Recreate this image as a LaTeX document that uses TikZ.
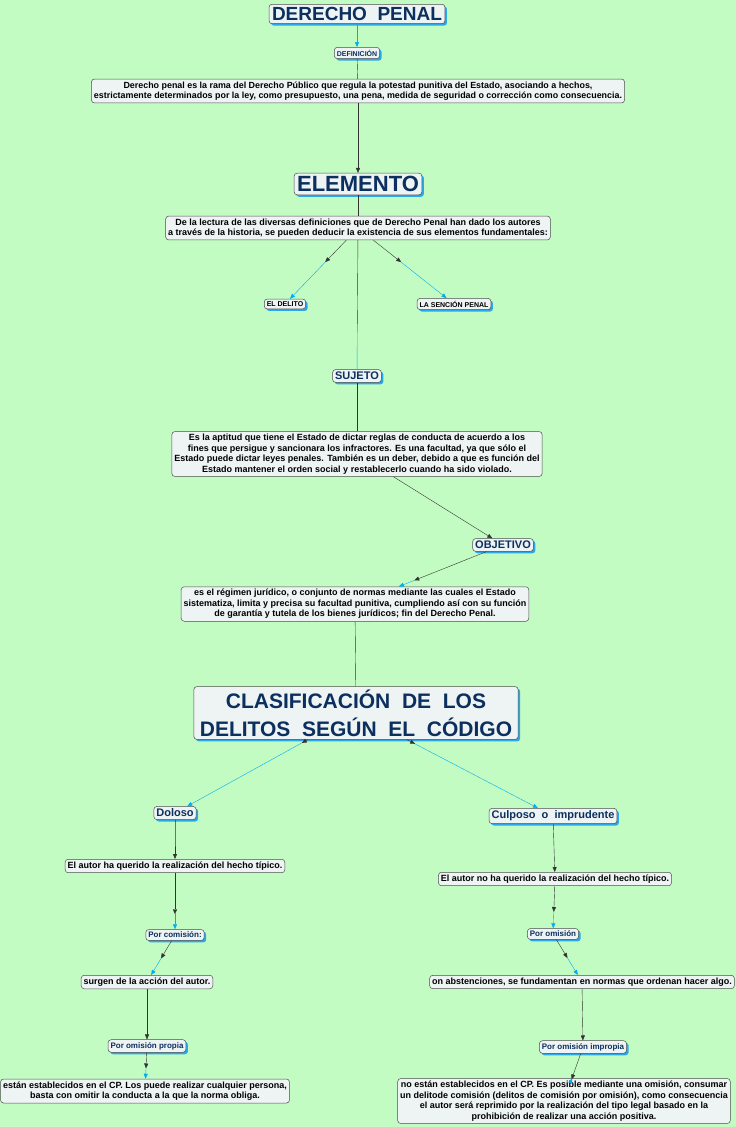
\documentclass[tikz,border=0pt]{standalone}
\usepackage{fontspec}
\setmainfont{Liberation Sans}
\usetikzlibrary{shadows,calc,arrows.meta}
\definecolor{bgreen}{HTML}{C3FCC3}
\definecolor{navy}{HTML}{0B2F5E}
\definecolor{boxfill}{HTML}{EEF3F3}
\definecolor{shad}{HTML}{2CA8E8}
\tikzset{
  base/.style={draw=black!70, fill=boxfill, rounded corners=3pt, line width=0.5pt, font=\bfseries, inner sep=2.5pt},
  concept/.style={base, text=navy, drop shadow={fill=shad, opacity=1, shadow xshift=2pt, shadow yshift=-2pt}},
  phrase/.style={base, align=center, font=\bfseries\fontsize{9}{10.5}\selectfont},
  big/.style={concept, font=\bfseries\fontsize{22}{24}\selectfont, inner sep=3pt},
  mid/.style={concept, font=\bfseries\fontsize{11}{13}\selectfont},
  small/.style={concept, font=\bfseries\fontsize{7}{8}\selectfont},
  tip/.style={-{Triangle[length=5pt,width=4pt]}}
}
% black part with arrow, then cyan part with arrow
\newcommand{\link}[3][0.55]{%
  \draw[black!80, tip] (#2) -- ($(#2)!#1!(#3)$);
  \draw[cyan, tip] ($(#2)!#1!(#3)$) -- (#3);}
\begin{document}
\begin{tikzpicture}[x=1pt,y=-1pt]
\fill[bgreen] (0,0) rectangle (736,1127);
\useasboundingbox (0,0) rectangle (736,1127);

\node[big, font=\bfseries\fontsize{19}{21}\selectfont] (dp) at (357,14) {DERECHO\ \ PENAL};
\node[small] (def) at (357,53) {DEFINICIÓN};
\node[phrase, font=\bfseries\fontsize{8.9}{10.5}\selectfont] (deftxt) at (358,91) {Derecho penal es la rama del Derecho Público que regula la potestad punitiva del Estado, asociando a hechos,\\
estrictamente determinados por la ley, como presupuesto, una pena, medida de seguridad o corrección como consecuencia.};
\node[big] (elem) at (358,184) {ELEMENTO};
\node[phrase] (elemtxt) at (358,228) {De la lectura de las diversas definiciones que de Derecho Penal han dado los autores\\
a través de la historia, se pueden deducir la existencia de sus elementos fundamentales:};
\node[small, text=black] (delito) at (285,304) {EL\ DELITO};
\node[small, text=black] (sancion) at (454,304) {LA\ SENCIÓN\ PENAL};
\node[mid] (sujeto) at (357,376) {SUJETO};
\node[phrase] (sujtxt) at (357,454) {Es la aptitud que tiene el Estado de dictar reglas de conducta de acuerdo a los\\
fines que persigue y sancionara los infractores. Es una facultad, ya que sólo el\\
Estado puede dictar leyes penales. También es un deber, debido a que es función del\\
Estado mantener el orden social y restablecerlo cuando ha sido violado.};
\node[mid] (obj) at (503,545) {OBJETIVO};
\node[phrase] (objtxt) at (355,604) {es el régimen jurídico, o conjunto de normas mediante las cuales el Estado\\
sistematiza, limita y precisa su facultad punitiva, cumpliendo así con su función\\
de garantía y tutela de los bienes jurídicos; fin del Derecho Penal.};
\node[big, align=center, font=\bfseries\fontsize{21}{28}\selectfont, inner xsep=6pt] (clas) at (356,713) {CLASIFICACIÓN\ \ DE\ \ LOS\\DELITOS\ \ SEGÚN\ \ EL\ \ CÓDIGO};

\node[mid] (dol) at (175,813) {Doloso};
\node[mid] (cul) at (553,816) {Culposo\ \ o\ \ imprudente};
\node[phrase] (doltxt) at (175,866) {El autor ha querido la realización del hecho típico.};
\node[phrase] (cultxt) at (555,879) {El autor no ha querido la realización del hecho típico.};
\node[concept, font=\bfseries\fontsize{8}{10}\selectfont] (pcom) at (175,935) {Por comisión:};
\node[concept, font=\bfseries\fontsize{8}{10}\selectfont] (pom) at (553,934) {Por omisión};
\node[phrase] (surgen) at (147,982) {surgen de la acción del autor.};
\node[phrase] (abst) at (582,982) {on abstenciones, se fundamentan en normas que ordenan hacer algo.};
\node[concept, font=\bfseries\fontsize{8}{10}\selectfont] (propia) at (147,1046) {Por omisión propia};
\node[concept, font=\bfseries\fontsize{8}{10}\selectfont] (impropia) at (583,1047) {Por omisión impropia};
\node[phrase] (esttxt) at (145,1091) {están establecidos en el CP. Los puede realizar cualquier persona,\\
basta con omitir la conducta a la que la norma obliga.};
\node[phrase] (noesttxt) at (564,1101) {no están establecidos en el CP. Es posible mediante una omisión, consumar\\
un delitode comisión (delitos de comisión por omisión), como consecuencia\\
el autor será reprimido por la realización del tipo legal basado en la\\
prohibición de realizar una acción positiva.};

\draw[cyan, tip] (dp) -- (def);
\draw[black!80] (def) -- (deftxt);
\draw[black!80, tip] (deftxt) -- (elem);
\draw[black!80] (elem) -- (elemtxt);
\link[0.45]{elemtxt}{delito}
\link[0.45]{elemtxt}{sancion}
\draw[black!80] (elemtxt) -- ($(elemtxt)!0.65!(sujeto)$);
\draw[cyan] ($(elemtxt)!0.65!(sujeto)$) -- (sujeto);
\draw[black!80] (sujeto) -- (sujtxt);
\draw[black!80, tip] (sujtxt) -- (obj);
\link[0.6]{obj}{objtxt}
\draw[black!80] (objtxt) -- (clas);
\link[0.3]{clas}{dol}
\link[0.3]{clas}{cul}
\draw[black!80, tip] (dol) -- ($(dol)!0.5!(doltxt)$) -- (doltxt);
\link[0.7]{doltxt}{pcom}
\link[0.5]{pcom}{surgen}
\draw[black!80, tip] (surgen) -- (propia);
\link[0.5]{propia}{esttxt}
\draw[black!80, tip] (cul) -- ($(cul)!0.55!(cultxt)$) -- (cultxt);
\link[0.6]{cultxt}{pom}
\link[0.5]{pom}{abst}
\draw[black!80, tip] (abst) -- (impropia);
\link[0.6]{impropia}{noesttxt}
\end{tikzpicture}
\end{document}
